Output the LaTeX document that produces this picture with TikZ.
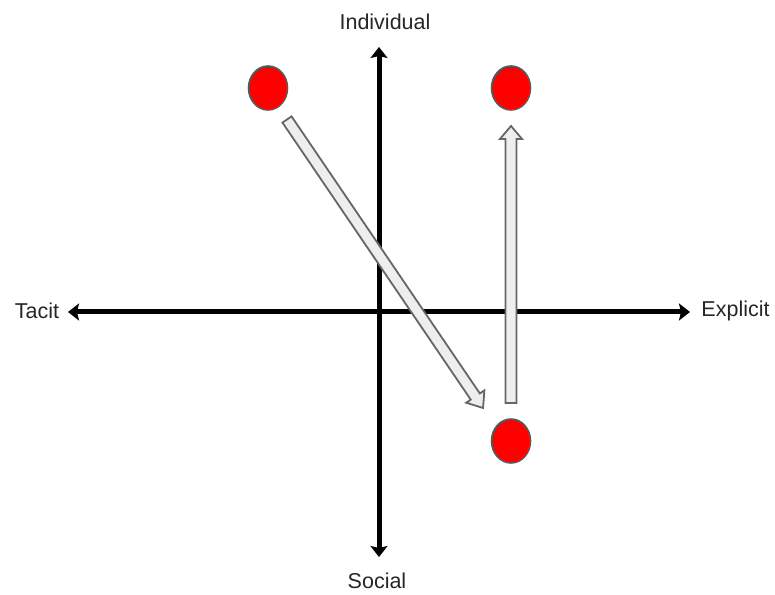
\documentclass[tikz,border=0pt]{standalone}
\usepackage{fontspec}
\setmainfont{Liberation Sans}
\usetikzlibrary{arrows.meta,shapes.geometric}
\definecolor{dotred}{HTML}{FF0000}
\definecolor{dotedge}{HTML}{5A5A5A}
\definecolor{fatfill}{HTML}{EEEEEE}
\definecolor{fatedge}{HTML}{666666}
\tikzset{
  axisline/.style={line width=5pt,-{Stealth[length=11pt,width=17pt,inset=2pt]}},
  axislabel/.style={font=\fontsize{21.5}{24}\selectfont,inner sep=0pt,text=black!85},
  dot/.style={ellipse,draw=dotedge,line width=1.6pt,fill=dotred,minimum width=39pt,minimum height=44pt,inner sep=0pt},
  fatarrow/.style={draw=fatedge,fill=fatfill,line width=1.8pt,line join=miter}
}
\begin{document}
\begin{tikzpicture}[x=1pt,y=1pt]
\useasboundingbox (0,0) rectangle (775,594);
% axes
\coordinate (vc) at (379,282);
\coordinate (vtop) at (379,547);
\coordinate (vbot) at (379,37);
\coordinate (hleft) at (68,282);
\coordinate (hright) at (690,282);
\draw[axisline] (vc) -- (vtop);
\draw[axisline] (vc) -- (vbot);
\draw[axisline] (vc) -- (hleft);
\draw[axisline] (vc) -- (hright);
% labels
\node[axislabel] (ind) at (385,572) {Individual};
\node[axislabel] (soc) at (377,13) {Social};
\node[axislabel] (tac) at (37,283) {Tacit};
\node[axislabel] (exp) at (735.5,283) {Explicit};
% dots
\node[dot] (d1) at (268,506) {};
\node[dot] (d2) at (511,506) {};
\node[dot] (d3) at (511,153) {};
% fat arrows
\coordinate (a1) at (287,474.5);
\coordinate (a2) at (511,191);
\begin{scope}[shift={(a1)},rotate=-55.8]
  \draw[fatarrow] (0,-5.5) -- (335,-5.5) -- (335,-11) -- (348.8,0) -- (335,11) -- (335,5.5) -- (0,5.5) -- cycle;
\end{scope}
\begin{scope}[shift={(a2)},rotate=90]
  \draw[fatarrow] (0,-5.5) -- (264,-5.5) -- (264,-11) -- (277,0) -- (264,11) -- (264,5.5) -- (0,5.5) -- cycle;
\end{scope}
\end{tikzpicture}
\end{document}
